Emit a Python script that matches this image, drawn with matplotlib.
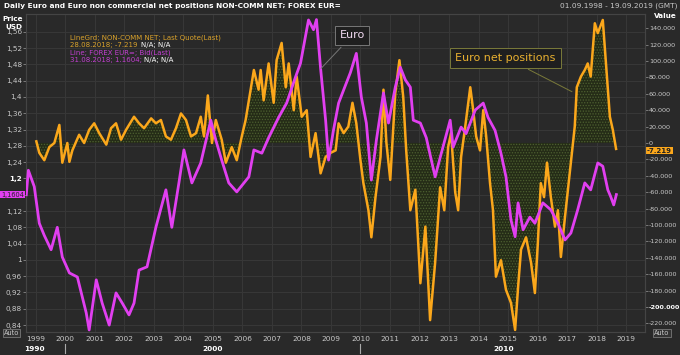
import matplotlib
matplotlib.use("Agg")
import matplotlib.pyplot as plt
import matplotlib.transforms as mtransforms
import numpy as np

# EUR/USD
eur_t = [1998.68, 1998.75, 1998.95, 1999.12, 1999.29, 1999.52, 1999.73, 1999.90,
         2000.14, 2000.41, 2000.71, 2000.81, 2001.05, 2001.25, 2001.49, 2001.72,
         2001.93, 2002.16, 2002.33, 2002.50, 2002.77, 2003.07, 2003.41, 2003.61,
         2003.85, 2004.02, 2004.29, 2004.59, 2004.93, 2005.10, 2005.30, 2005.54,
         2005.81, 2006.22, 2006.39, 2006.66, 2006.89, 2007.23, 2007.50, 2007.80,
         2007.97, 2008.24, 2008.41, 2008.51, 2008.65, 2008.82, 2008.92, 2009.09,
         2009.26, 2009.43, 2009.66, 2009.86, 2010.03, 2010.20, 2010.37, 2010.54,
         2010.78, 2010.95, 2011.18, 2011.35, 2011.52, 2011.69, 2011.79, 2012.03,
         2012.23, 2012.53, 2012.74, 2013.04, 2013.14, 2013.41, 2013.58, 2013.89,
         2014.16, 2014.32, 2014.56, 2014.76, 2014.93, 2015.10, 2015.24, 2015.34,
         2015.51, 2015.74, 2015.91, 2016.18, 2016.45, 2016.69, 2016.93, 2017.13,
         2017.36, 2017.60, 2017.80, 2018.04, 2018.21, 2018.38, 2018.48, 2018.58,
         2018.67]
eur_v = [1.16, 1.22, 1.18, 1.09, 1.06, 1.025, 1.08, 1.007,
         0.968, 0.958, 0.87, 0.828, 0.951, 0.894, 0.84, 0.919,
         0.894, 0.865, 0.894, 0.975, 0.983, 1.08, 1.172, 1.08,
         1.189, 1.27, 1.189, 1.238, 1.343, 1.294, 1.245, 1.189,
         1.167, 1.204, 1.27, 1.262, 1.30, 1.35, 1.385, 1.449,
         1.483, 1.589, 1.565, 1.59, 1.47, 1.343, 1.245, 1.32,
         1.385, 1.417, 1.46, 1.507, 1.40, 1.336, 1.196, 1.294,
         1.41, 1.336, 1.424, 1.473, 1.442, 1.424, 1.343, 1.336,
         1.30, 1.204, 1.262, 1.343, 1.277, 1.326, 1.31, 1.368,
         1.385, 1.35, 1.318, 1.262, 1.204, 1.098, 1.057, 1.14,
         1.074, 1.105, 1.09, 1.14, 1.123, 1.09, 1.049, 1.066,
         1.123, 1.189, 1.172, 1.238, 1.23, 1.172, 1.155, 1.135,
         1.1604]

# non-commercial net positions, thousands of contracts
net_t = [1999.02, 1999.12, 1999.29, 1999.46, 1999.63, 1999.80, 1999.90, 2000.07,
         2000.14, 2000.24, 2000.47, 2000.64, 2000.81, 2000.98, 2001.15, 2001.39,
         2001.55, 2001.72, 2001.89, 2002.06, 2002.33, 2002.50, 2002.67, 2002.91,
         2003.07, 2003.24, 2003.41, 2003.58, 2003.75, 2003.92, 2004.09, 2004.26,
         2004.43, 2004.59, 2004.70, 2004.83, 2004.97, 2005.10, 2005.30, 2005.44,
         2005.64, 2005.81, 2005.98, 2006.11, 2006.22, 2006.39, 2006.55, 2006.62,
         2006.72, 2006.89, 2007.06, 2007.16, 2007.33, 2007.47, 2007.57, 2007.74,
         2007.84, 2008.01, 2008.18, 2008.31, 2008.48, 2008.65, 2008.82, 2008.99,
         2009.16, 2009.26, 2009.43, 2009.59, 2009.73, 2009.86, 2010.00, 2010.10,
         2010.27, 2010.37, 2010.51, 2010.68, 2010.78, 2010.88, 2011.01, 2011.18,
         2011.32, 2011.45, 2011.55, 2011.69, 2011.86, 2012.03, 2012.20, 2012.36,
         2012.53, 2012.70, 2012.84, 2012.97, 2013.07, 2013.21, 2013.31, 2013.41,
         2013.55, 2013.72, 2013.82, 2013.92, 2014.05, 2014.16, 2014.26, 2014.39,
         2014.49, 2014.59, 2014.76, 2014.93, 2015.10, 2015.24, 2015.34, 2015.44,
         2015.61, 2015.78, 2015.91, 2016.01, 2016.11, 2016.22, 2016.32, 2016.45,
         2016.59, 2016.69, 2016.79, 2016.93, 2017.03, 2017.13, 2017.26, 2017.33,
         2017.47, 2017.60, 2017.70, 2017.80, 2017.94, 2018.04, 2018.21, 2018.31,
         2018.45, 2018.55, 2018.66]
net_v = [2, -12, -21, -5, 0, 22, -24, 0,
         -23, -9, 10, 0, 16, 24, 12, -2,
         18, 24, 4, 16, 32, 24, 18, 30,
         24, 28, 8, 4, 18, 36, 28, 8,
         12, 32, 8, 58, 0, 28, 4, -24,
         -5, -21, 8, 28, 52, 89, 65, 89,
         52, 97, 49, 101, 122, 68, 97, 40,
         81, 32, 40, -17, 12, -37, -17, -12,
         -9, 24, 12, 20, 49, 24, -21, -49,
         -82, -115, -66, -17, 65, 0, -45, 61,
         101, 56, -9, -82, -57, -171, -102, -216,
         -146, -54, -82, -5, 12, -60, -82, -17,
         20, 68, 40, 8, -9, 40, 8, -49,
         -82, -163, -143, -179, -195, -228, -176, -130,
         -115, -146, -183, -122, -49, -66, -24, -66,
         -102, -82, -139, -90, -57, -24, 20, 68,
         81, 89, 97, 81, 146, 134, 150, 101,
         32, 16, -7.219]

left_ticks = [0.84, 0.88, 0.92, 0.96, 1.0, 1.04, 1.08, 1.12, 1.16, 1.2,
              1.24, 1.28, 1.32, 1.36, 1.4, 1.44, 1.48, 1.52, 1.56]
right_ticks = [-220, -200, -180, -160, -140, -120, -100, -80, -60, -40, -20,
               0, 20, 40, 60, 80, 100, 120, 140]
years = list(range(1999, 2020))

EUR_C = "#e13ff0"
NET_C = "#fba71b"
TXT = "#c9c9c9"

plt.rcParams["hatch.linewidth"] = 0.6

fig = plt.figure(figsize=(6.8, 3.55), dpi=100, facecolor="#292929")
ax = fig.add_axes([26 / 680, 1 - 332 / 355, 619 / 680, 318 / 355])
ax2 = ax.twinx()

ax.set_xlim(1998.67, 2019.64)
ax.set_ylim(0.823, 1.6037)
ax2.set_ylim(-230.5, 157.3)

# ax2 sits behind ax so the euro line is on top
ax.set_zorder(ax2.get_zorder() + 1)
ax.patch.set_visible(False)
ax2.patch.set_facecolor("#1f1f1f")

# grid (drawn on the back axes)
for y in left_ticks:
    ax2.axhline((y - 0.823) / (1.6037 - 0.823) * (157.3 + 230.5) - 230.5,
                color="#373737", lw=0.8, zorder=0)
for yr in years:
    ax2.axvline(yr, color="#373737", lw=0.8, zorder=0)

# net positions with dotted fill to zero
nt = np.array(net_t)
nv = np.array(net_v)
ax2.fill_between(nt, nv, 0, facecolor="#252c17", edgecolor="#4d6030",
                 hatch="......", lw=0, zorder=1)
ax2.plot(nt, nv, color=NET_C, lw=1.8, zorder=2)
ax.plot(eur_t, eur_v, color=EUR_C, lw=2.0, zorder=3)

# ticks
ax.set_yticks(left_ticks)
ax.set_yticklabels(["" if v == 1.16 else ("%g" % v).replace(".", ",") for v in left_ticks])
ax2.set_yticks(right_ticks)
ax2.set_yticklabels(["0" if v == 0 else "%.3f" % v for v in right_ticks])
ax.set_xticks(years)
ax.set_xticklabels([str(y) for y in years])
ax.tick_params(axis="y", colors="#888888", labelcolor=TXT, labelsize=5.2,
               length=2, width=0.6, pad=1)
ax2.tick_params(axis="y", colors="#888888", labelcolor=TXT, labelsize=4.6,
                length=2, width=0.6, pad=0.8)
ax.tick_params(axis="x", length=0, labelcolor=TXT, labelsize=5.3, pad=3)
for lab in ax.get_yticklabels():
    if lab.get_text() == "1,2":
        lab.set_fontweight("bold")
        lab.set_color("white")
for lab in ax2.get_yticklabels():
    if lab.get_text() == "-200.000":
        lab.set_fontweight("bold")
        lab.set_color("white")
for a in (ax, ax2):
    for s in a.spines.values():
        s.set_color("#444444")
        s.set_linewidth(0.8)

# decade row
trans = mtransforms.blended_transform_factory(ax.transData, fig.transFigure)
for lbl, pos in [("1990", 1998.95), ("2000", 2005.0), ("2010", 2014.85)]:
    ax.text(pos, 0.016, lbl, transform=trans, color="white", fontsize=5.3,
            fontweight="bold", ha="center", va="center")
for pos in [2000.0, 2010.0]:
    ax.plot([pos, pos], [0.005, 0.03], transform=trans, color="#aaaaaa",
            lw=0.8, clip_on=False)

# header texts
fig.text(0.006, 0.983, "Daily Euro and Euro non commercial net positions NON-COMM NET; FOREX EUR=",
         color="white", fontsize=5.3, fontweight="bold", va="center")
fig.text(0.997, 0.983, "01.09.1998 - 19.09.2019 (GMT)", color=TXT,
         fontsize=5.3, ha="right", va="center")
fig.text(0.033, 0.935, "Price\nUSD", color="white", fontsize=5.2,
         fontweight="bold", ha="right", va="center", linespacing=1.4)
fig.text(0.962, 0.955, "Value", color="white", fontsize=5.2,
         fontweight="bold", ha="left", va="center")

# legend lines
fig.text(0.103, 0.89, "LineGrd; NON-COMM NET; Last Quote(Last)", color="#d9a22b", fontsize=5)
fig.text(0.103, 0.868, "28.08.2018; -7.219", color="#d9a22b", fontsize=5)
fig.text(0.207, 0.868, "N/A; N/A", color="white", fontsize=5)
fig.text(0.103, 0.846, "Line; FOREX EUR=; Bid(Last)", color="#c23fd0", fontsize=5)
fig.text(0.103, 0.824, "31.08.2018; 1.1604;", color="#c23fd0", fontsize=5)
fig.text(0.212, 0.824, "N/A; N/A", color="white", fontsize=5)

# last value tags
ax.text(-0.003, 1.1604, "1,1604", transform=mtransforms.blended_transform_factory(ax.transAxes, ax.transData),
        ha="right", va="center", fontsize=4.8, color="#222222",
        bbox=dict(boxstyle="square,pad=0.12", fc=EUR_C, ec="none"))
ax2.text(1.003, -9.5, "-7.219", transform=mtransforms.blended_transform_factory(ax2.transAxes, ax2.transData),
         ha="left", va="center", fontsize=5, color="#222222", fontweight="bold",
         bbox=dict(boxstyle="square,pad=0.1", fc=NET_C, ec="none"))

# Auto buttons
for xpos in [0.006, 0.962]:
    fig.text(xpos, 0.062, "Auto", color=TXT, fontsize=4.8, ha="left", va="center",
             bbox=dict(boxstyle="square,pad=0.15", fc="#333333", ec="#888888", lw=0.5))

# callouts
ax.annotate("Euro", xy=(2008.6, 1.465), xytext=(2009.72, 1.551),
            color="#f0d8f0", fontsize=8, ha="center", va="center", zorder=5,
            bbox=dict(boxstyle="square,pad=0.4", fc="#1f1f1f", ec="#777777", lw=0.7),
            arrowprops=dict(arrowstyle="-", color="#777777", lw=0.7))
ax2.annotate("Euro net positions", xy=(2017.25, 61), xytext=(2014.92, 104),
             color="#e8b030", fontsize=8, ha="center", va="center", zorder=5,
             bbox=dict(boxstyle="square,pad=0.45", fc="#1f1f1f", ec="#7a7a3a", lw=0.7),
             arrowprops=dict(arrowstyle="-", color="#7a7a3a", lw=0.7))

fig.savefig("out.png", dpi=100, facecolor=fig.get_facecolor())
